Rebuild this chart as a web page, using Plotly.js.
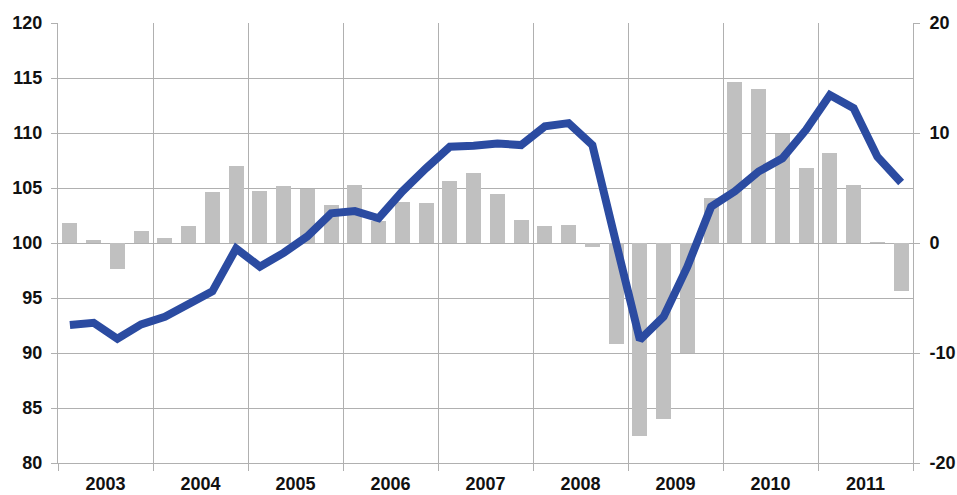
<!DOCTYPE html>
<html>
<head>
<meta charset="utf-8">
<script src="https://cdn.plot.ly/plotly-3.0.1.min.js"></script>
<style>html,body{margin:0;padding:0;background:#fff;}#chart{width:957px;height:495px;}</style>
</head>
<body>
<div id="chart"></div>
<script>
// Quarterly data 2003Q1 - 2011Q4
const quarters = [
  "2003Q1","2003Q2","2003Q3","2003Q4",
  "2004Q1","2004Q2","2004Q3","2004Q4",
  "2005Q1","2005Q2","2005Q3","2005Q4",
  "2006Q1","2006Q2","2006Q3","2006Q4",
  "2007Q1","2007Q2","2007Q3","2007Q4",
  "2008Q1","2008Q2","2008Q3","2008Q4",
  "2009Q1","2009Q2","2009Q3","2009Q4",
  "2010Q1","2010Q2","2010Q3","2010Q4",
  "2011Q1","2011Q2","2011Q3","2011Q4"
];
// Index level (left axis, line)
const indexLevel = [
  92.55, 92.75, 91.3, 92.6,
  93.3, 94.4, 95.6, 99.5,
  97.85, 99.1, 100.6, 102.7,
  102.9, 102.25, 104.7, 106.8,
  108.75, 108.85, 109.05, 108.9,
  110.6, 110.9, 108.9, 100.0,
  91.2, 93.3, 97.85, 103.3,
  104.7, 106.5, 107.7, 110.3,
  113.45, 112.25, 107.85, 105.5
];
// Growth rate (right axis, bars)
const growth = [
  1.8, 0.25, -2.4, 1.1,
  0.5, 1.55, 4.6, 7.0,
  4.7, 5.15, 4.9, 3.5,
  5.3, 2.0, 3.7, 3.65,
  5.6, 6.35, 4.5, 2.05,
  1.55, 1.65, -0.35, -9.2,
  -17.5, -16.0, -10.0, 4.05,
  14.6, 14.0, 9.9, 6.8,
  8.2, 5.3, 0.05, -4.35
];
const years = ["2003","2004","2005","2006","2007","2008","2009","2010","2011"];
const rightTickVals = [-20, -10, 0, 10, 20];
const rightTickText = ["-20", "-10", "0", "10", "20"];

const xPos = quarters.map((q, i) => i + 0.5);
const yearCenters = years.map((y, i) => i * 4 + 2);

const gridCol = "#b0b0b0";
const tickFont = {family: "Liberation Sans, Arial, sans-serif", size: 18, color: "#111", weight: "bold"};

const traces = [
  {
    type: "bar", x: xPos, y: growth, yaxis: "y",
    marker: {color: "#c0c0c0"}, width: 0.64,
    hoverinfo: "skip", showlegend: false
  },
  {
    type: "scatter", mode: "lines", x: xPos, y: indexLevel, yaxis: "y2",
    line: {color: "#2b4ba1", width: 8, shape: "linear"},
    hoverinfo: "skip", showlegend: false
  }
];

const layout = {
  width: 957, height: 495,
  margin: {l: 58, r: 44, t: 23, b: 32},
  paper_bgcolor: "#fff", plot_bgcolor: "#fff",
  showlegend: false,
  bargap: 0,
  xaxis: {
    range: [0, 36], fixedrange: true,
    tickmode: "array", tickvals: yearCenters, ticktext: years,
    ticks: "", showgrid: false, zeroline: false,
    showline: true, linecolor: gridCol, linewidth: 1,
    tickfont: tickFont, ticklabelstandoff: 4,
    minor: {tick0: 0, dtick: 4, showgrid: true, gridcolor: gridCol, gridwidth: 1,
            ticks: "outside", ticklen: 7, tickcolor: gridCol, tickwidth: 1}
  },
  yaxis: {
    side: "right", range: [-20, 20],
    tickmode: "array", tickvals: rightTickVals, ticktext: rightTickText,
    showgrid: false, zeroline: false,
    showline: true, linecolor: gridCol, linewidth: 1,
    ticks: "outside", ticklen: 6, tickcolor: gridCol,
    tickfont: tickFont, ticklabelstandoff: 6
  },
  yaxis2: {
    overlaying: "y", side: "left", range: [80, 120], dtick: 5, tick0: 80,
    showgrid: true, gridcolor: gridCol, gridwidth: 1, zeroline: false,
    showline: true, linecolor: gridCol, linewidth: 1,
    ticks: "outside", ticklen: 6, tickcolor: gridCol,
    tickfont: tickFont, ticklabelstandoff: 5
  }
};

Plotly.newPlot("chart", traces, layout, {displayModeBar: false, staticPlot: true});
</script>
</body>
</html>
